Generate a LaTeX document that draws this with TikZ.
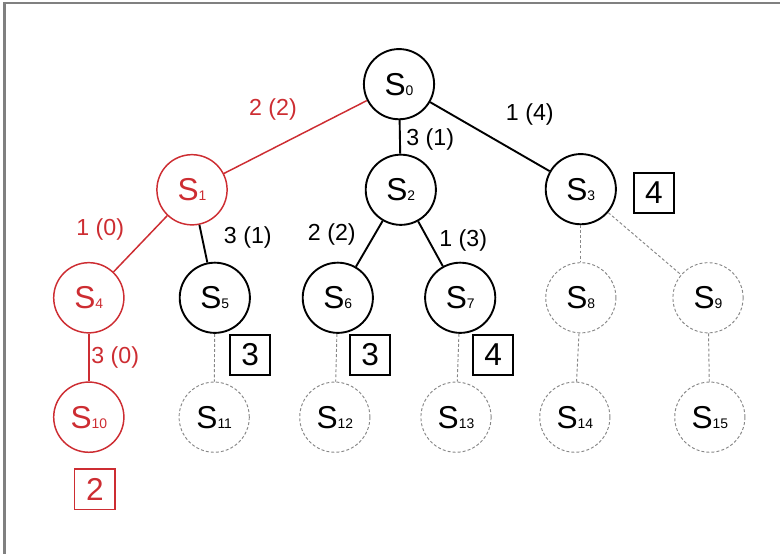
\documentclass[tikz,border=0pt]{standalone}
\usepackage{fontspec}
\setmainfont{Liberation Sans}
\definecolor{pathred}{RGB}{205,45,50}
\definecolor{framegray}{RGB}{128,128,128}
\definecolor{ghost}{RGB}{135,135,135}
\newcommand{\sname}[1]{S{\fontsize{6.6}{7}\selectfont #1}}

\begin{document}
\begin{tikzpicture}[
    state/.style={circle, draw, line width=0.9pt, minimum size=1.17cm, inner sep=0pt, font=\fontsize{15}{15}\selectfont},
    ghoststate/.style={state, draw=ghost, line width=0.45pt, dash pattern=on 1.4pt off 1pt},
    redstate/.style={state, draw=pathred, text=pathred, line width=0.7pt},
    costbox/.style={rectangle, draw, line width=0.9pt, minimum size=0.67cm, inner sep=0pt, font=\fontsize{15}{15}\selectfont},
    cost/.style={font=\fontsize{11}{11}\selectfont},
    link/.style={line width=0.9pt},
    redlink/.style={draw=pathred, line width=0.7pt},
    ghostlink/.style={draw=ghost, line width=0.45pt, dash pattern=on 1.4pt off 1pt},
]
    % 画布和边框
    \useasboundingbox (0,0) rectangle (13,9.233);
    \draw[framegray, line width=1.4pt] (0.07,0) -- (0.07,9.183) -- (13,9.183);

    % 第0,1层状态
    \node[state] (s0) at (6.65, 7.83) {\sname{0}};
    \node[redstate] (s1) at (3.20, 6.07) {\sname{1}};
    \node[state] (s2) at (6.68, 6.07) {\sname{2}};
    \node[state] (s3) at (9.68, 6.08) {\sname{3}};

    % 第2层状态
    \node[redstate] (s4) at (1.48, 4.27) {\sname{4}};
    \node[state] (s5) at (3.58, 4.27) {\sname{5}};
    \node[state] (s6) at (5.63, 4.27) {\sname{6}};
    \node[state] (s7) at (7.67, 4.27) {\sname{7}};
    \node[ghoststate] (s8) at (9.68, 4.27) {\sname{8}};
    \node[ghoststate] (s9) at (11.80, 4.27) {\sname{9}};

    % 第3层状态
    \node[redstate] (s10) at (1.48, 2.28) {\sname{10}};
    \node[ghoststate] (s11) at (3.57, 2.28) {\sname{11}};
    \node[ghoststate] (s12) at (5.58, 2.28) {\sname{12}};
    \node[ghoststate] (s13) at (7.60, 2.28) {\sname{13}};
    \node[ghoststate] (s14) at (9.58, 2.28) {\sname{14}};
    \node[ghoststate] (s15) at (11.83, 2.28) {\sname{15}};

    % 连线
    \draw[redlink] (s0) -- (s1);
    \draw[link] (s0) -- (s2);
    \draw[link] (s0) -- (s3);
    \draw[redlink] (s1) -- (s4);
    \draw[link] (s1) -- (s5);
    \draw[link] (s2) -- (s6);
    \draw[link] (s2) -- (s7);
    \draw[ghostlink] (s3) -- (s8);
    \draw[ghostlink] (s3) -- (s9);
    \draw[redlink] (s4) -- (s10);
    \draw[ghostlink] (s5) -- (s11);
    \draw[ghostlink] (s6) -- (s12);
    \draw[ghostlink] (s7) -- (s13);
    \draw[ghostlink] (s8) -- (s14);
    \draw[ghostlink] (s9) -- (s15);

    % 边上的代价
    \node[cost, text=pathred] (c01) at (4.55, 7.40) {2 (2)};
    \node[cost] (c02) at (7.17, 6.90) {3 (1)};
    \node[cost] (c03) at (8.83, 7.32) {1 (4)};
    \node[cost, text=pathred] (c14) at (1.67, 5.40) {1 (0)};
    \node[cost] (c15) at (4.13, 5.27) {3 (1)};
    \node[cost] (c26) at (5.53, 5.32) {2 (2)};
    \node[cost] (c27) at (7.72, 5.23) {1 (3)};
    \node[cost, text=pathred] (c410) at (1.92, 3.27) {3 (0)};

    % 估计值方框
    \node[costbox] (b3) at (10.90, 6.02) {4};
    \node[costbox] (b5) at (4.17, 3.32) {3};
    \node[costbox] (b6) at (6.17, 3.32) {3};
    \node[costbox] (b7) at (8.22, 3.32) {4};
    \node[costbox, draw=pathred, text=pathred, line width=0.7pt] (b10) at (1.58, 1.08) {2};
\end{tikzpicture}
\end{document}
